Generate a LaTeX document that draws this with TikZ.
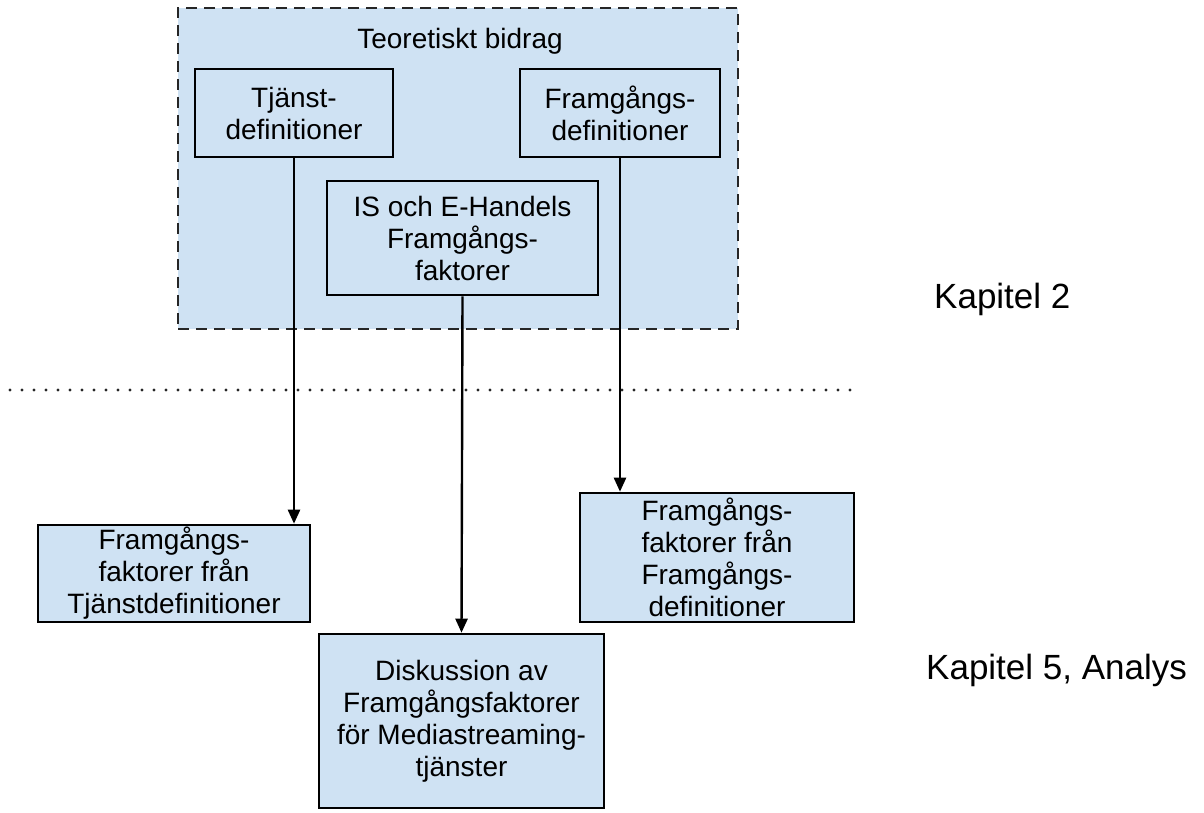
\documentclass[tikz,border=0pt]{standalone}
\usepackage{fontspec}
\setmainfont{Liberation Sans}
\usetikzlibrary{arrows.meta}

\definecolor{boxblue}{HTML}{CFE2F3}

\tikzset{
  boxtext/.style={font=\fontsize{28}{32}\selectfont, align=center},
  stepbox/.style={boxtext, draw=black, line width=2.6pt, fill=boxblue,
    rectangle, inner sep=0pt},
  framebox/.style={draw=black!85, line width=2.8pt, fill=boxblue,
    dash pattern=on 11pt off 7pt, rectangle, inner sep=0pt},
  flow/.style={draw=black, line width=2.4pt,
    -{Triangle[width=12pt,length=14pt]}},
  chapter/.style={font=\fontsize{35}{40}\selectfont, inner sep=0pt},
}

\begin{document}
\begin{tikzpicture}[x=1pt, y=-1pt]
  % page extent
  \useasboundingbox (0,0) rectangle (1204,812);

  % chapter 2 frame and its contents
  \node[framebox, minimum width=560pt, minimum height=321pt] (frame) at (458,168.5) {};
  \node[boxtext, anchor=base, inner sep=0pt] (title) at (460,48) {Teoretiskt bidrag};

  \node[stepbox, minimum width=198pt, minimum height=88pt] (tjd) at (294,113)
    {Tjänst-\\definitioner};
  \node[stepbox, minimum width=200pt, minimum height=88pt] (fgd) at (620,113)
    {Framgångs-\\definitioner};
  \node[stepbox, minimum width=271pt, minimum height=114pt] (isf) at (462.5,238)
    {IS och E-Handels\\Framgångs-\\faktorer};

  % separator between the chapters
  \coordinate (sepL) at (10,390);
  \coordinate (sepR) at (861,390);
  \draw[line width=3.4pt, line cap=round, dash pattern=on 0pt off 12pt, black!85] (sepL) -- (sepR);

  % chapter 5 boxes
  \node[stepbox, minimum width=272pt, minimum height=97pt] (ftd) at (174,573.5)
    {Framgångs-\\faktorer från\\Tjänstdefinitioner};
  \node[stepbox, minimum width=274pt, minimum height=129pt] (ffd) at (717,557.5)
    {Framgångs-\\faktorer från\\Framgångs-\\definitioner};
  \node[stepbox, minimum width=285pt, minimum height=174pt] (disk) at (461.5,721)
    {Diskussion av\\Framgångsfaktorer\\för Mediastreaming-\\tjänster};

  % connectors
  \draw[flow] (tjd.south) -- (tjd.south |- ftd.north);
  \draw[flow] (fgd.south) -- (fgd.south |- ffd.north);
  \draw[flow] (isf.south) -- (disk.north);

  % chapter labels
  \node[chapter, anchor=base west] (kap2) at (934,308) {Kapitel 2};
  \node[chapter, anchor=base west] (kap5) at (926,679) {Kapitel 5, Analys};
\end{tikzpicture}
\end{document}
